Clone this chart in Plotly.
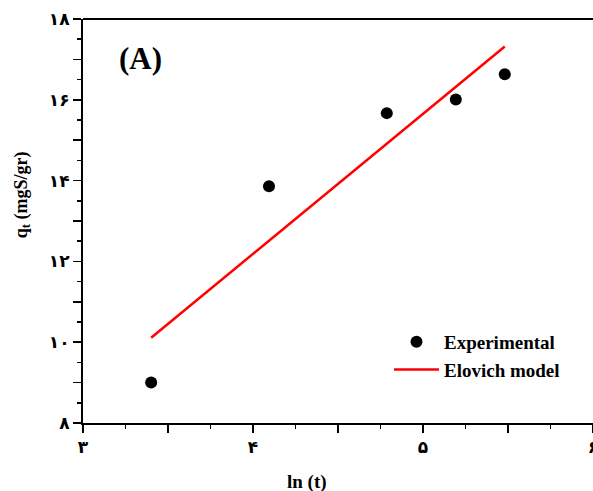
import plotly.graph_objects as go

# Experimental data (ln t, qt)
exp_x = [3.401, 4.094, 4.787, 5.193, 5.481]
exp_y = [9.0, 13.86, 15.67, 16.01, 16.63]

# Elovich model line (end points)
fit_x = [3.401, 5.481]
fit_y = [10.11, 17.32]

x_tickvals = [3, 3.5, 4, 4.5, 5, 5.5, 6]
x_ticktext = ["۳", " ", "۴", " ", "۵", " ", "۶"]
y_tickvals = [8, 9, 10, 11, 12, 13, 14, 15, 16, 17, 18]
y_ticktext = ["۸", " ", "۱۰", " ", "۱۲", " ", "۱۴", " ", "۱۶", " ", "۱۸"]

serif = "Liberation Serif, Times New Roman, serif"
digits = "DejaVu Sans, Liberation Serif, serif"

fig = go.Figure()
fig.add_trace(go.Scatter(x=exp_x, y=exp_y, mode="markers", name="Experimental",
                         marker=dict(color="black", size=12, symbol="circle")))
fig.add_trace(go.Scatter(x=fit_x, y=fit_y, mode="lines", name="Elovich model",
                         line=dict(color="#ff0000", width=2.5)))

axis_common = dict(showgrid=False, zeroline=False, showline=True, linecolor="black",
                   linewidth=2, ticks="outside", ticklen=8, tickwidth=1.5, tickcolor="black",
                   ticklabeloverflow="allow", automargin=False,
                   tickfont=dict(family=digits, size=17, color="black", weight="bold"))

fig.update_xaxes(range=[3, 6], tickmode="array", tickvals=x_tickvals, ticktext=x_ticktext,
                 mirror=False,
                 minor=dict(tickmode="linear", tick0=3, dtick=0.25, ticks="outside",
                            ticklen=4, tickwidth=1.5, tickcolor="black", showgrid=False),
                 **axis_common)
fig.update_yaxes(range=[8, 18], tickmode="array", tickvals=y_tickvals, ticktext=y_ticktext,
                 mirror=False,
                 minor=dict(tickmode="linear", tick0=8, dtick=0.5, ticks="outside",
                            ticklen=4, tickwidth=1.5, tickcolor="black", showgrid=False),
                 **axis_common)

# figure wider than the window so the cut right edge falls at x = 6
fig.update_layout(
    width=613, height=491,
    margin=dict(l=83, r=20, t=19, b=68),
    plot_bgcolor="white", paper_bgcolor="white",
    showlegend=True,
    legend=dict(x=0.60, y=0.166, xanchor="left", yanchor="middle",
                bgcolor="rgba(0,0,0,0)", itemwidth=45,
                font=dict(family=serif, size=19, color="black", weight="bold")),
    shapes=[dict(type="line", xref="paper", yref="paper", x0=0, x1=1, y0=1, y1=1,
                 line=dict(color="black", width=2))],
    annotations=[
        dict(text="(A)", x=0.112, y=0.903, xref="paper", yref="paper",
             showarrow=False, xanchor="center", yanchor="middle",
             font=dict(family=serif, size=31, color="black", weight="bold")),
        dict(text="ln (t)", x=0.439, y=-0.145, xref="paper", yref="paper",
             showarrow=False, xanchor="center", yanchor="middle",
             font=dict(family=serif, size=19, color="black", weight="bold")),
        dict(text="q<sub>t</sub> (mgS/gr)", x=-0.1196, y=0.5636, xref="paper", yref="paper",
             showarrow=False, xanchor="center", yanchor="middle", textangle=-90,
             font=dict(family=serif, size=18, color="black", weight="bold")),
    ],
)

fig.write_html("out.html", config={"staticPlot": True})
